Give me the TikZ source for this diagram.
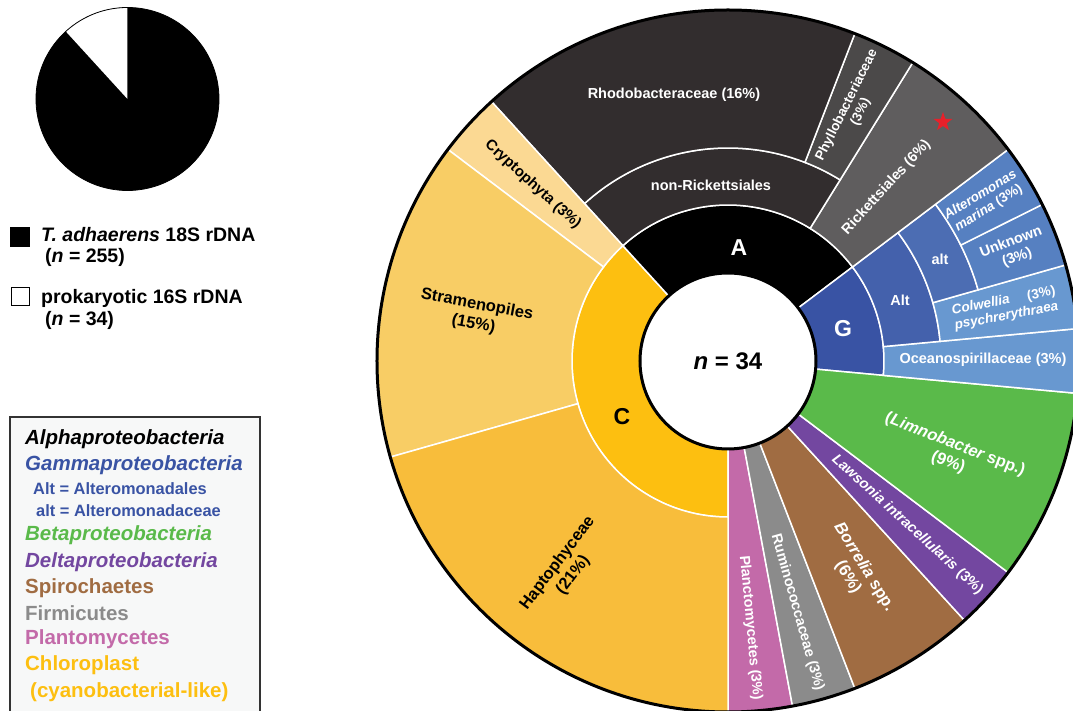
\documentclass[tikz,border=0pt]{standalone}
\usepackage{fontspec}
\setmainfont{Liberation Sans}
\usetikzlibrary{shapes.geometric}

% palette
\definecolor{alphaA}{HTML}{000000}
\definecolor{rhodo}{HTML}{322D2E}
\definecolor{phyllo}{HTML}{4B4949}
\definecolor{ricket}{HTML}{5F5D5E}
\definecolor{gammaG}{HTML}{3953A4}
\definecolor{altOrd}{HTML}{4461AC}
\definecolor{altFam}{HTML}{4C6DB3}
\definecolor{altLeaf}{HTML}{5680C1}
\definecolor{gamLeaf}{HTML}{6898D0}
\definecolor{betaG}{HTML}{5ABA4A}
\definecolor{deltaP}{HTML}{7347A0}
\definecolor{spiroB}{HTML}{A06C42}
\definecolor{firmG}{HTML}{8B8B8B}
\definecolor{planctP}{HTML}{C36AA9}
\definecolor{chloroC}{HTML}{FDBF10}
\definecolor{hapto}{HTML}{F8BD3B}
\definecolor{strameno}{HTML}{F8CD65}
\definecolor{crypto}{HTML}{FBD993}
\definecolor{legendbg}{HTML}{F7F8F8}
\definecolor{starred}{HTML}{E8202A}

% annular segment: colour, inner r, outer r, first unit, last unit (34 units per turn, from the bottom)
\newcommand{\ringseg}[5]{%
  \filldraw[fill=#1, draw=white, line width=1.5pt]
    ({-90+#4*360/34}:#2pt) arc[start angle={-90+#4*360/34}, end angle={-90+#5*360/34}, radius=#2pt]
    -- ({-90+#5*360/34}:#3pt) arc[start angle={-90+#5*360/34}, end angle={-90+#4*360/34}, radius=#3pt]
    -- cycle;}

\begin{document}
\begin{tikzpicture}[x=1pt,y=1pt,
  wl/.style={font=\bfseries\fontsize{14.5}{16.5}\selectfont, text=white, align=center, inner sep=0pt},
  wls/.style={font=\bfseries\fontsize{13.5}{15.5}\selectfont, text=white, align=center, inner sep=0pt},
  wlb/.style={font=\bfseries\fontsize{16.5}{19}\selectfont, text=white, align=center, inner sep=0pt},
  dl/.style={font=\bfseries\fontsize{16.5}{19.5}\selectfont, text=black, align=center, inner sep=0pt},
  ringlet/.style={font=\bfseries\fontsize{23}{26}\selectfont, inner sep=0pt},
  legtext/.style={font=\bfseries\fontsize{19.5}{22}\selectfont, anchor=west, inner sep=0pt},
  keytext/.style={font=\bfseries\fontsize{20.5}{23}\selectfont, anchor=west, inner sep=0pt},
  keysub/.style={font=\bfseries\fontsize{16.4}{19}\selectfont, anchor=west, inner sep=0pt}]

\useasboundingbox (-728,-350) rectangle (345,361);

% ---------- sunburst ----------
% innermost ring: classes
\ringseg{chloroC}{88}{156}{21}{34}
\ringseg{alphaA}{88}{156}{12}{21}
\ringseg{gammaG}{88}{156}{8}{12}
% leaves spanning every ring
\ringseg{planctP}{88}{351}{0}{1}
\ringseg{firmG}{88}{351}{1}{2}
\ringseg{spiroB}{88}{351}{2}{4}
\ringseg{deltaP}{88}{351}{4}{5}
\ringseg{betaG}{88}{351}{5}{8}
% Gammaproteobacteria
\ringseg{gamLeaf}{156}{351}{8}{9}
\ringseg{altOrd}{156}{213}{9}{12}
\ringseg{gamLeaf}{213}{351}{9}{10}
\ringseg{altFam}{213}{260}{10}{12}
\ringseg{altLeaf}{260}{351}{10}{11}
\ringseg{altLeaf}{260}{351}{11}{12}
% Alphaproteobacteria
\ringseg{ricket}{156}{351}{12}{14}
\ringseg{rhodo}{156}{213}{14}{21}
\ringseg{phyllo}{213}{351}{14}{15}
\ringseg{rhodo}{213}{351}{15}{21}
% chloroplast
\ringseg{crypto}{156}{351}{21}{22}
\ringseg{strameno}{156}{351}{22}{27}
\ringseg{hapto}{156}{351}{27}{34}

% outlines
\draw[line width=3pt] (0,0) circle[radius=351pt];
\node[circle, draw=black, line width=3pt, fill=white, minimum size=176pt, inner sep=0pt] (hub) at (0,0) {};
\node[font=\bfseries\fontsize{24}{28}\selectfont] (ntot) at (0,0) {{\itshape n} = 34};

% class letters
\node[ringlet, text=white] (lA) at (11,113) {A};
\node[ringlet, text=white] (lG) at (115,32) {G};
\node[ringlet, text=black] (lC) at (-106,-56) {C};

% Alphaproteobacteria labels
\node[wl] (rhodoL) at (-54,266) {Rhodobacteraceae (16\%)};
\node[wl] (nonrickL) at (-17,176) {non-Rickettsiales};
\node[wls, rotate=63.5] (phylloL) at (63.5:282pt) {Phyllobacteriaceae\\(3\%)};
\node[wl, rotate=47.6] (rickL) at (47.6:235pt) {Rickettsiales (6\%)};
\node[star, star points=5, star point ratio=2.5, fill=starred, inner sep=0pt, minimum size=20pt] (mark) at (215,239) {};

% Gammaproteobacteria labels
\node[wls, rotate=31.8] (amarL) at (31.8:302pt) {{\itshape Alteromonas}\\{\itshape marina} (3\%)};
\node[wl, rotate=21.2] (unkL) at (21.2:307pt) {Unknown\\(3\%)};
\node[wl] (altfL) at (212,102) {alt};
\node[wl] (altoL) at (172,61) {Alt};
\node[wls, rotate=10.6] (colwL) at (10.6:282pt) {\begin{tabular}{@{}l@{}}{\itshape Colwellia}\hfill(3\%)\\{\itshape psychrerythraea}\end{tabular}};
\node[wl] (oceanL) at (255,1) {Oceanospirillaceae (3\%)};

% remaining phyla
\node[wlb, rotate=-21.2] (limnoL) at (-22.5:242pt) {({\itshape Limnobacter} spp.)\\(9\%)};
\node[wl, rotate=-42.4] (lawsL) at (-42.4:243pt) {{\itshape Lawsonia intracellularis} (3\%)};
\node[wlb, rotate=-58.2] (borrL) at (-58.8:247pt) {{\itshape Borrelia} spp.\\(6\%)};
\node[wl, rotate=-74.1] (rumL) at (-74.6:261pt) {Ruminococcaceae (3\%)};
\node[wl, rotate=-84.7] (planL) at (-85.2:268pt) {Planctomycetes (3\%)};

% chloroplast labels
\node[dl, rotate=53] (haptoL) at (232:264pt) {Haptophyceae\\(21\%)};
\node[dl, rotate=-10.6] (stramL) at (169.6:257pt) {Stramenopiles\\(15\%)};
\node[dl, font=\bfseries\fontsize{15}{17}\selectfont, rotate=-42.3] (cryptL) at (137.9:263pt) {Cryptophyta (3\%)};

% ---------- composition pie ----------
\coordinate (pc) at (-600.5,262);
\fill[black] (pc) circle[radius=91.5pt];
\fill[white] (pc) -- ++(90:91.5pt) arc[start angle=90, end angle=132.4, radius=91.5pt] -- cycle;
\draw[line width=0.8pt] (pc) circle[radius=91.5pt];

\node[fill=black, minimum size=20pt, inner sep=0pt] (sqEuk) at (-707.5,124) {};
\node[draw=black, line width=1.2pt, fill=white, minimum size=18pt, inner sep=0pt] (sqPro) at (-707.5,64.5) {};
\node[legtext] (tEuk1) at (-687,126) {{\itshape T. adhaerens} 18S rDNA};
\node[legtext] (tEuk2) at (-683,104) {({\itshape n} = 255)};
\node[legtext] (tPro1) at (-687,63) {prokaryotic 16S rDNA};
\node[legtext] (tPro2) at (-683,41) {({\itshape n} = 34)};

% ---------- colour key ----------
\draw[fill=legendbg, draw=black!80, line width=1.5pt] (-718,-56) rectangle (-468,-380);
\node[keytext, text=black] (kA) at (-703,-78) {\itshape Alphaproteobacteria};
\node[keytext, text=gammaG] (kG) at (-703,-104) {\itshape Gammaproteobacteria};
\node[keysub, text=gammaG] (kAlt) at (-695,-128) {Alt = Alteromonadales};
\node[keysub, text=gammaG] (kalt) at (-692,-150) {alt = Alteromonadaceae};
\node[keytext, text=betaG] (kB) at (-703,-174) {\itshape Betaproteobacteria};
\node[keytext, text=deltaP] (kD) at (-703,-201) {\itshape Deltaproteobacteria};
\node[keytext, text=spiroB] (kS) at (-703,-227) {Spirochaetes};
\node[keytext, text=firmG] (kF) at (-703,-252) {Firmicutes};
\node[keytext, text=planctP] (kP) at (-703,-278) {Plantomycetes};
\node[keytext, text=chloroC] (kC1) at (-703,-304) {Chloroplast};
\node[keytext, text=chloroC] (kC2) at (-698,-331) {(cyanobacterial-like)};

\end{tikzpicture}
\end{document}
